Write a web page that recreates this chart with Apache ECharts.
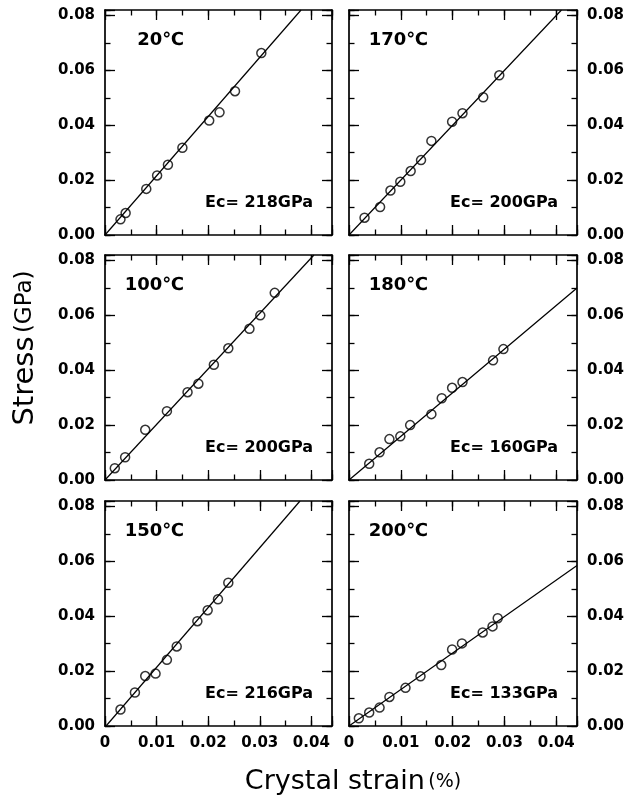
<!DOCTYPE html>
<html>
<head>
<meta charset="utf-8">
<script src="https://cdn.jsdelivr.net/npm/echarts@6/dist/echarts.min.js"></script>
<style>
  html, body { margin: 0; padding: 0; background: #fff; }
  #chart { width: 642px; height: 799px; }
</style>
</head>
<body>
<div id="chart"></div>
<script>
// panel order: top-left, top-right, middle-left, middle-right, bottom-left, bottom-right
const temps = ['20℃', '170℃', '100℃', '180℃', '150℃', '200℃']
const moduli = ['Ec= 218GPa', 'Ec= 200GPa', 'Ec= 200GPa', 'Ec= 160GPa', 'Ec= 216GPa', 'Ec= 133GPa']

// measured points [crystal strain %, stress GPa]
const pts20 = [[0.0030, 0.0057], [0.0040, 0.0080], [0.0080, 0.0168], [0.0101, 0.0217], [0.0122, 0.0256],
  [0.0150, 0.0318], [0.0202, 0.0417], [0.0222, 0.0447], [0.0252, 0.0524], [0.0303, 0.0663]]
const pts170 = [[0.0030, 0.0063], [0.0060, 0.0102], [0.0080, 0.0162], [0.0099, 0.0194], [0.0119, 0.0233],
  [0.0139, 0.0273], [0.0159, 0.0343], [0.0199, 0.0413], [0.0219, 0.0444], [0.0259, 0.0502], [0.0290, 0.0582]]
const pts100 = [[0.0019, 0.0043], [0.0039, 0.0083], [0.0078, 0.0183], [0.0120, 0.0251], [0.0160, 0.0320],
  [0.0181, 0.0351], [0.0211, 0.0420], [0.0239, 0.0480], [0.0280, 0.0551], [0.0301, 0.0600], [0.0329, 0.0682]]
const pts180 = [[0.0039, 0.0059], [0.0059, 0.0101], [0.0078, 0.0149], [0.0099, 0.0159], [0.0118, 0.0200],
  [0.0159, 0.0240], [0.0179, 0.0298], [0.0199, 0.0336], [0.0219, 0.0357], [0.0278, 0.0436], [0.0298, 0.0477]]
const pts150 = [[0.0030, 0.0060], [0.0058, 0.0122], [0.0078, 0.0182], [0.0098, 0.0191], [0.0120, 0.0241],
  [0.0139, 0.0290], [0.0179, 0.0382], [0.0199, 0.0422], [0.0219, 0.0462], [0.0239, 0.0522]]
const pts200 = [[0.0019, 0.0028], [0.0039, 0.0049], [0.0059, 0.0067], [0.0078, 0.0106], [0.0109, 0.0139],
  [0.0138, 0.0181], [0.0178, 0.0222], [0.0199, 0.0279], [0.0218, 0.0301], [0.0258, 0.0341],
  [0.0277, 0.0363], [0.0287, 0.0393]]

// fitted lines, end points
const fit20 = [[0, 0], [0.0380, 0.082]]
const fit170 = [[0, 0], [0.0410, 0.082]]
const fit100 = [[0, 0], [0.0405, 0.082]]
const fit180 = [[0, 0], [0.0440, 0.0700]]
const fit150 = [[0.0002, 0], [0.0378, 0.082]]
const fit200 = [[0, 0], [0.0440, 0.0585]]

const points = [pts20, pts170, pts100, pts180, pts150, pts200]
const fits = [fit20, fit170, fit100, fit180, fit150, fit200]

const xMax = 0.044
const yMax = 0.082

// layout
const colLeft = [105, 349]
const colWidth = [227, 228]
const rowTop = [10, 255, 501]
const rowHeight = 225

const FONT = 'DejaVu Sans'
const black = '#000'

const isMultiple = (v, step) => Math.abs(v / step - Math.round(v / step)) < 1e-6

const xFmt = (v) => {
  if (Math.abs(v) < 1e-9) return '0'
  return isMultiple(v, 0.01) ? v.toFixed(2) : ''
}
const yFmt = (v) => (isMultiple(v, 0.02) ? v.toFixed(2) : '')

const grids = []
const xAxes = []
const yAxes = []
const series = []
const graphics = []

const labelStyle = {color: black, fontFamily: FONT, fontWeight: 'bold', fontSize: 15}

// one axis per side carries the frame + long ticks, a second one adds the short ticks
function makeAxis(gridIndex, position, step, max, tickLen, showLine, showLabel, fmt) {
  return {
    type: 'value',
    gridIndex,
    position,
    min: 0,
    max,
    interval: step,
    axisLine: {show: showLine, onZero: false, lineStyle: {color: black, width: 1.7}},
    axisTick: {show: true, inside: true, length: tickLen, lineStyle: {color: black, width: 1.3}},
    axisLabel: Object.assign({show: showLabel, margin: 10, formatter: fmt}, labelStyle),
    splitLine: {show: false}
  }
}

for (let i = 0; i < 6; i++) {
  const c = i % 2
  const r = Math.floor(i / 2)
  grids.push({left: colLeft[c], top: rowTop[r], width: colWidth[c], height: rowHeight, containLabel: false})

  const xi = xAxes.length
  xAxes.push(makeAxis(i, 'bottom', 0.01, xMax, 10, true, r === 2, xFmt))
  xAxes.push(makeAxis(i, 'bottom', 0.005, xMax, 5.5, false, false, xFmt))
  xAxes.push(makeAxis(i, 'top', 0.01, xMax, 10, true, false, xFmt))
  xAxes.push(makeAxis(i, 'top', 0.005, xMax, 5.5, false, false, xFmt))

  const yi = yAxes.length
  yAxes.push(makeAxis(i, 'left', 0.02, yMax, 10, true, c === 0, yFmt))
  yAxes.push(makeAxis(i, 'left', 0.01, yMax, 5.5, false, false, yFmt))
  yAxes.push(makeAxis(i, 'right', 0.02, yMax, 10, true, c === 1, yFmt))
  yAxes.push(makeAxis(i, 'right', 0.01, yMax, 5.5, false, false, yFmt))

  series.push({
    type: 'line',
    xAxisIndex: xi,
    yAxisIndex: yi,
    data: fits[i],
    symbol: 'none',
    clip: true,
    lineStyle: {color: black, width: 1.2},
    z: 2
  })
  series.push({
    type: 'scatter',
    xAxisIndex: xi,
    yAxisIndex: yi,
    data: points[i],
    symbol: 'circle',
    symbolSize: 9,
    itemStyle: {color: 'rgba(0,0,0,0)', borderColor: black, borderWidth: 1.5},
    z: 3
  })

  // temperature label
  graphics.push({
    type: 'text',
    x: colLeft[c] + 79,
    y: rowTop[r] + 30,
    style: {
      text: temps[i], fill: black, fontFamily: FONT, fontWeight: 'bold', fontSize: 18,
      align: 'right', verticalAlign: 'middle', textAlign: 'right', textVerticalAlign: 'middle'
    }
  })
  // modulus label
  graphics.push({
    type: 'text',
    x: colLeft[c] + colWidth[c] - 19,
    y: rowTop[r] + rowHeight - 32,
    style: {
      text: moduli[i], fill: black, fontFamily: FONT, fontWeight: 'bold', fontSize: 16,
      align: 'right', verticalAlign: 'middle', textAlign: 'right', textVerticalAlign: 'middle'
    }
  })
}

// axis titles
graphics.push({
  type: 'text',
  x: 25,
  y: 348,
  rotation: Math.PI / 2,
  style: {
    text: '{a|Stress} {b|(GPa)}',
    fill: black,
    rich: {
      a: {fontFamily: FONT, fontSize: 29, fill: black},
      b: {fontFamily: FONT, fontSize: 23, fill: black}
    },
    align: 'center', verticalAlign: 'middle', textAlign: 'center', textVerticalAlign: 'middle'
  }
})
graphics.push({
  type: 'text',
  x: 353,
  y: 782,
  style: {
    text: '{a|Crystal strain} {b|(%)}',
    fill: black,
    rich: {
      a: {fontFamily: FONT, fontSize: 27, fill: black},
      b: {fontFamily: FONT, fontSize: 19, fill: black}
    },
    align: 'center', verticalAlign: 'middle', textAlign: 'center', textVerticalAlign: 'middle'
  }
})

const chart = echarts.init(document.getElementById('chart'))
chart.setOption({
  animation: false,
  backgroundColor: '#fff',
  grid: grids,
  xAxis: xAxes,
  yAxis: yAxes,
  series,
  graphic: graphics
})
</script>
</body>
</html>
